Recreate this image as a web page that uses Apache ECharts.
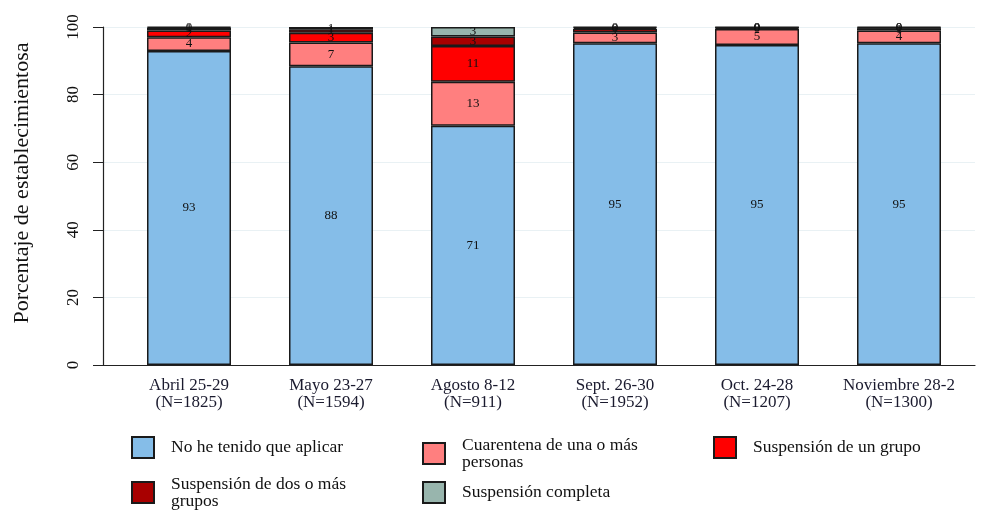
<!DOCTYPE html>
<html>
<head>
<meta charset="utf-8">
<script src="https://cdn.jsdelivr.net/npm/echarts@6/dist/echarts.min.js"></script>
<style>
  html, body { margin: 0; padding: 0; background: #fff; }
  #main { width: 981px; height: 512px; }
</style>
</head>
<body>
<div id="main"></div>
<script>
// datos
var categories = ['Abril 25-29\n(N=1825)', 'Mayo 23-27\n(N=1594)', 'Agosto 8-12\n(N=911)',
  'Sept. 26-30\n(N=1952)', 'Oct. 24-28\n(N=1207)', 'Noviembre 28-2\n(N=1300)'];
var seriesNames = ['No he tenido que aplicar', 'Cuarentena de una o más\npersonas', 'Suspensión de un grupo',
  'Suspensión de dos o más\ngrupos', 'Suspensión completa'];
var noAplica   = [92.9, 88.4, 70.8, 95.2, 94.7, 95.2];
var cuarentena = [4.1, 7.0, 13.0, 3.2, 4.7, 3.8];
var unGrupo    = [2.0, 2.9, 10.6, 1.0, 0.3, 0.6];
var dosGrupos  = [0.8, 1.0, 2.8, 0.4, 0.2, 0.2];
var completa   = [0.2, 0.7, 2.8, 0.2, 0.1, 0.2];

var colors = ['#85bde8', '#ff7f7f', '#ff0000', '#a80000', '#98b5ad'];
var values = [noAplica, cuarentena, unGrupo, dosGrupos, completa];
var serif = 'Liberation Serif';

var series = values.map(function (vals, k) {
  return {
    name: seriesNames[k],
    type: 'bar',
    stack: 'total',
    barWidth: 84,
    xAxisIndex: 0,
    yAxisIndex: 0,
    data: vals,
    itemStyle: { color: colors[k], borderColor: '#1a1a1a', borderWidth: 1.5 },
    label: {
      show: true,
      position: 'inside',
      fontFamily: serif,
      fontSize: 13,
      color: '#111',
      formatter: function (p) { return Math.round(p.value); }
    },
    emphasis: { disabled: true }
  };
});

// leyenda: una por elemento para colocarlas en rejilla
var legendPos = [[131, 436], [422, 436], [713, 436], [131, 475], [422, 481]];
var legends = seriesNames.map(function (n, k) {
  return {
    data: [n],
    left: legendPos[k][0],
    top: legendPos[k][1],
    padding: 0,
    orient: 'vertical',
    icon: 'rect',
    itemWidth: 22,
    itemHeight: 21,
    selectedMode: false,
    textStyle: { fontFamily: serif, fontSize: 17.5, color: '#111', lineHeight: 17, padding: [0, 0, 0, 12] }
  };
});

var option = {
  backgroundColor: '#fff',
  animation: false,
  // grid 0: barras; grid 1: ejes y lineas de rejilla
  grid: [
    { left: 118, right: 11, top: 27, bottom: 147 },
    { left: 103, right: 6, top: 27, bottom: 147 }
  ],
  legend: legends,
  xAxis: [{
    type: 'category',
    gridIndex: 0,
    data: categories,
    axisLine: { show: false },
    axisTick: { show: false },
    axisLabel: {
      interval: 0,
      fontFamily: serif,
      fontSize: 17,
      lineHeight: 17,
      color: '#1a1a2e',
      margin: 12
    }
  }, {
    type: 'value',
    gridIndex: 1,
    min: 0,
    max: 1,
    axisLine: { show: true, lineStyle: { color: '#222', width: 1.2 } },
    axisTick: { show: false },
    axisLabel: { show: false },
    splitLine: { show: false }
  }],
  yAxis: [{
    type: 'value',
    gridIndex: 0,
    min: 0,
    max: 100,
    show: false
  }, {
    type: 'value',
    gridIndex: 1,
    min: 0,
    max: 100,
    interval: 20,
    name: 'Porcentaje de establecimientosa',
    nameLocation: 'middle',
    nameGap: 70,
    nameRotate: 90,
    nameTextStyle: { fontFamily: serif, fontSize: 22, color: '#111', padding: [0, 0, 0, 26] },
    axisLine: { show: true, onZero: false, lineStyle: { color: '#222', width: 1.2 } },
    axisTick: { show: true, length: 10, lineStyle: { color: '#222' } },
    axisLabel: {
      rotate: 90,
      fontFamily: serif,
      fontSize: 17,
      color: '#111',
      margin: 21
    },
    splitLine: { show: true, lineStyle: { color: '#e9f1f4', width: 1 } }
  }],
  series: series
};

var myChart = echarts.init(document.getElementById('main'));
myChart.setOption(option);
</script>
</body>
</html>
